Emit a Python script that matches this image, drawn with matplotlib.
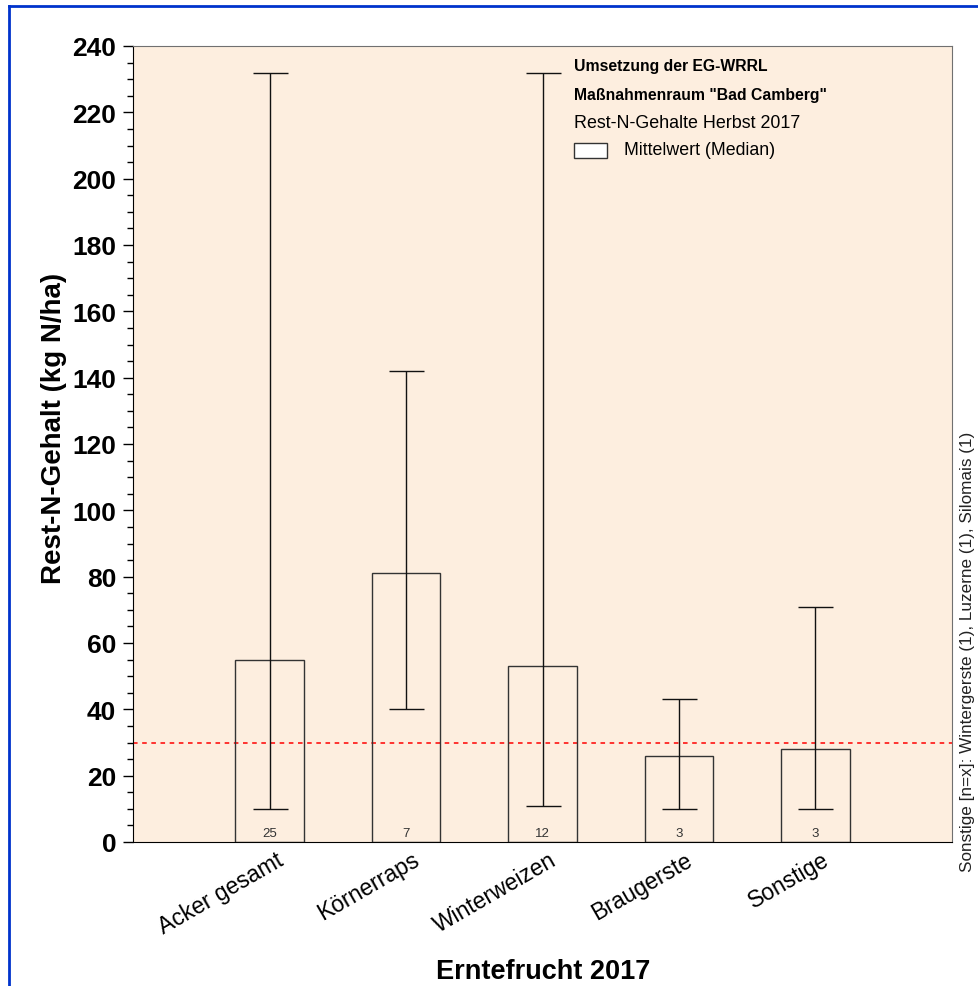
import matplotlib
matplotlib.use("Agg")
import matplotlib.pyplot as plt
from matplotlib.lines import Line2D
from matplotlib.patches import Rectangle
from matplotlib.ticker import MultipleLocator
from matplotlib.transforms import ScaledTranslation
import numpy as np

plt.rcParams['font.family'] = ['Liberation Sans', 'DejaVu Sans']

categories = ["Acker gesamt", "Körnerraps", "Winterweizen", "Braugerste", "Sonstige"]
median = [55, 81, 53, 26, 28]
vmin = [10, 40, 11, 10, 10]
vmax = [232, 142, 232, 43, 71]
counts = [25, 7, 12, 3, 3]
threshold = 30

W, H = 979, 987
fig = plt.figure(figsize=(W / 100, H / 100), dpi=100)
ax = fig.add_axes([133 / W, 1 - 843 / H, 819 / W, 796 / H])
ax.set_facecolor('#FDEEDF')

x = np.arange(len(categories))
ax.bar(x, median, width=0.5, facecolor='none', edgecolor='#333333', linewidth=1.0, zorder=3)
lower = np.array(median) - np.array(vmin)
upper = np.array(vmax) - np.array(median)
ax.errorbar(x, median, yerr=[lower, upper], fmt='none', ecolor='#111111',
            elinewidth=1.0, capsize=12.6, capthick=1.0, zorder=4)
ax.axhline(threshold, color='#FF0000', linestyle=(0, (3, 3)), linewidth=1.1, zorder=2)

for xi, c in zip(x, counts):
    ax.text(xi, 0.8, str(c), ha='center', va='bottom', fontsize=9.5, color='#333333', zorder=5)

ax.set_xlim(-1, 5)
ax.set_ylim(0, 240)
ax.yaxis.set_major_locator(MultipleLocator(20))
ax.yaxis.set_minor_locator(MultipleLocator(5))
ax.tick_params(axis='y', which='major', length=7, width=1, labelsize=19, pad=5)
ax.tick_params(axis='y', which='minor', length=4, width=1)
for lab in ax.get_yticklabels():
    lab.set_fontweight('bold')
ax.set_xticks(x)
ax.set_xticklabels(categories, rotation=30, ha='right', rotation_mode='anchor', fontsize=16.5)
ax.tick_params(axis='x', length=0, pad=4)
offset = ScaledTranslation(6 / 100, 0, fig.dpi_scale_trans)
for lab in ax.get_xticklabels():
    lab.set_transform(lab.get_transform() + offset)

for s in ['top', 'right']:
    ax.spines[s].set_color('#707070')
ax.spines['bottom'].set_color('#000000')
ax.spines['left'].set_color('#000000')

ax.set_ylabel("Rest-N-Gehalt (kg N/ha)", fontsize=20, fontweight='bold', va='center')
ax.yaxis.set_label_coords((54 - 133) / 819, (843 - 428) / 796)
fig.text(543 / W, 1 - 972 / H, "Erntefrucht 2017", ha='center', va='center',
         fontsize=19.5, fontweight='bold')

# legend-like text block
lx = (574 - 133) / 819
def ay(py):
    return (843 - py) / 796
ax.text(lx, ay(67), "Umsetzung der EG-WRRL", transform=ax.transAxes, fontsize=11.3,
        fontweight='bold', va='center', ha='left')
ax.text(lx, ay(96), 'Maßnahmenraum "Bad Camberg"', transform=ax.transAxes, fontsize=11.3,
        fontweight='bold', va='center', ha='left')
ax.text(lx, ay(124), "Rest-N-Gehalte Herbst 2017", transform=ax.transAxes, fontsize=12.9,
        va='center', ha='left')
ax.add_patch(Rectangle((lx, ay(159)), (607 - 574) / 819, 15 / 796, transform=ax.transAxes,
                       facecolor='white', edgecolor='#333333', linewidth=1, zorder=5))
ax.text((624 - 133) / 819, ay(151), "Mittelwert (Median)", transform=ax.transAxes,
        fontsize=12.8, va='center', ha='left')

fig.text(968 / W, 1 - 872 / H, "Sonstige [n=x]: Wintergerste (1), Luzerne (1), Silomais (1)",
         rotation=90, ha='center', va='bottom', fontsize=12.3, color='#222222')

# blue frame
fig.add_artist(Line2D([9 / W, 9 / W], [0, 1 - 7 / H], color='#0033CC', linewidth=2,
                      transform=fig.transFigure))
fig.add_artist(Line2D([9 / W, 1], [1 - 7 / H, 1 - 7 / H], color='#0033CC', linewidth=2,
                      transform=fig.transFigure))

fig.savefig("out.png", dpi=100)
